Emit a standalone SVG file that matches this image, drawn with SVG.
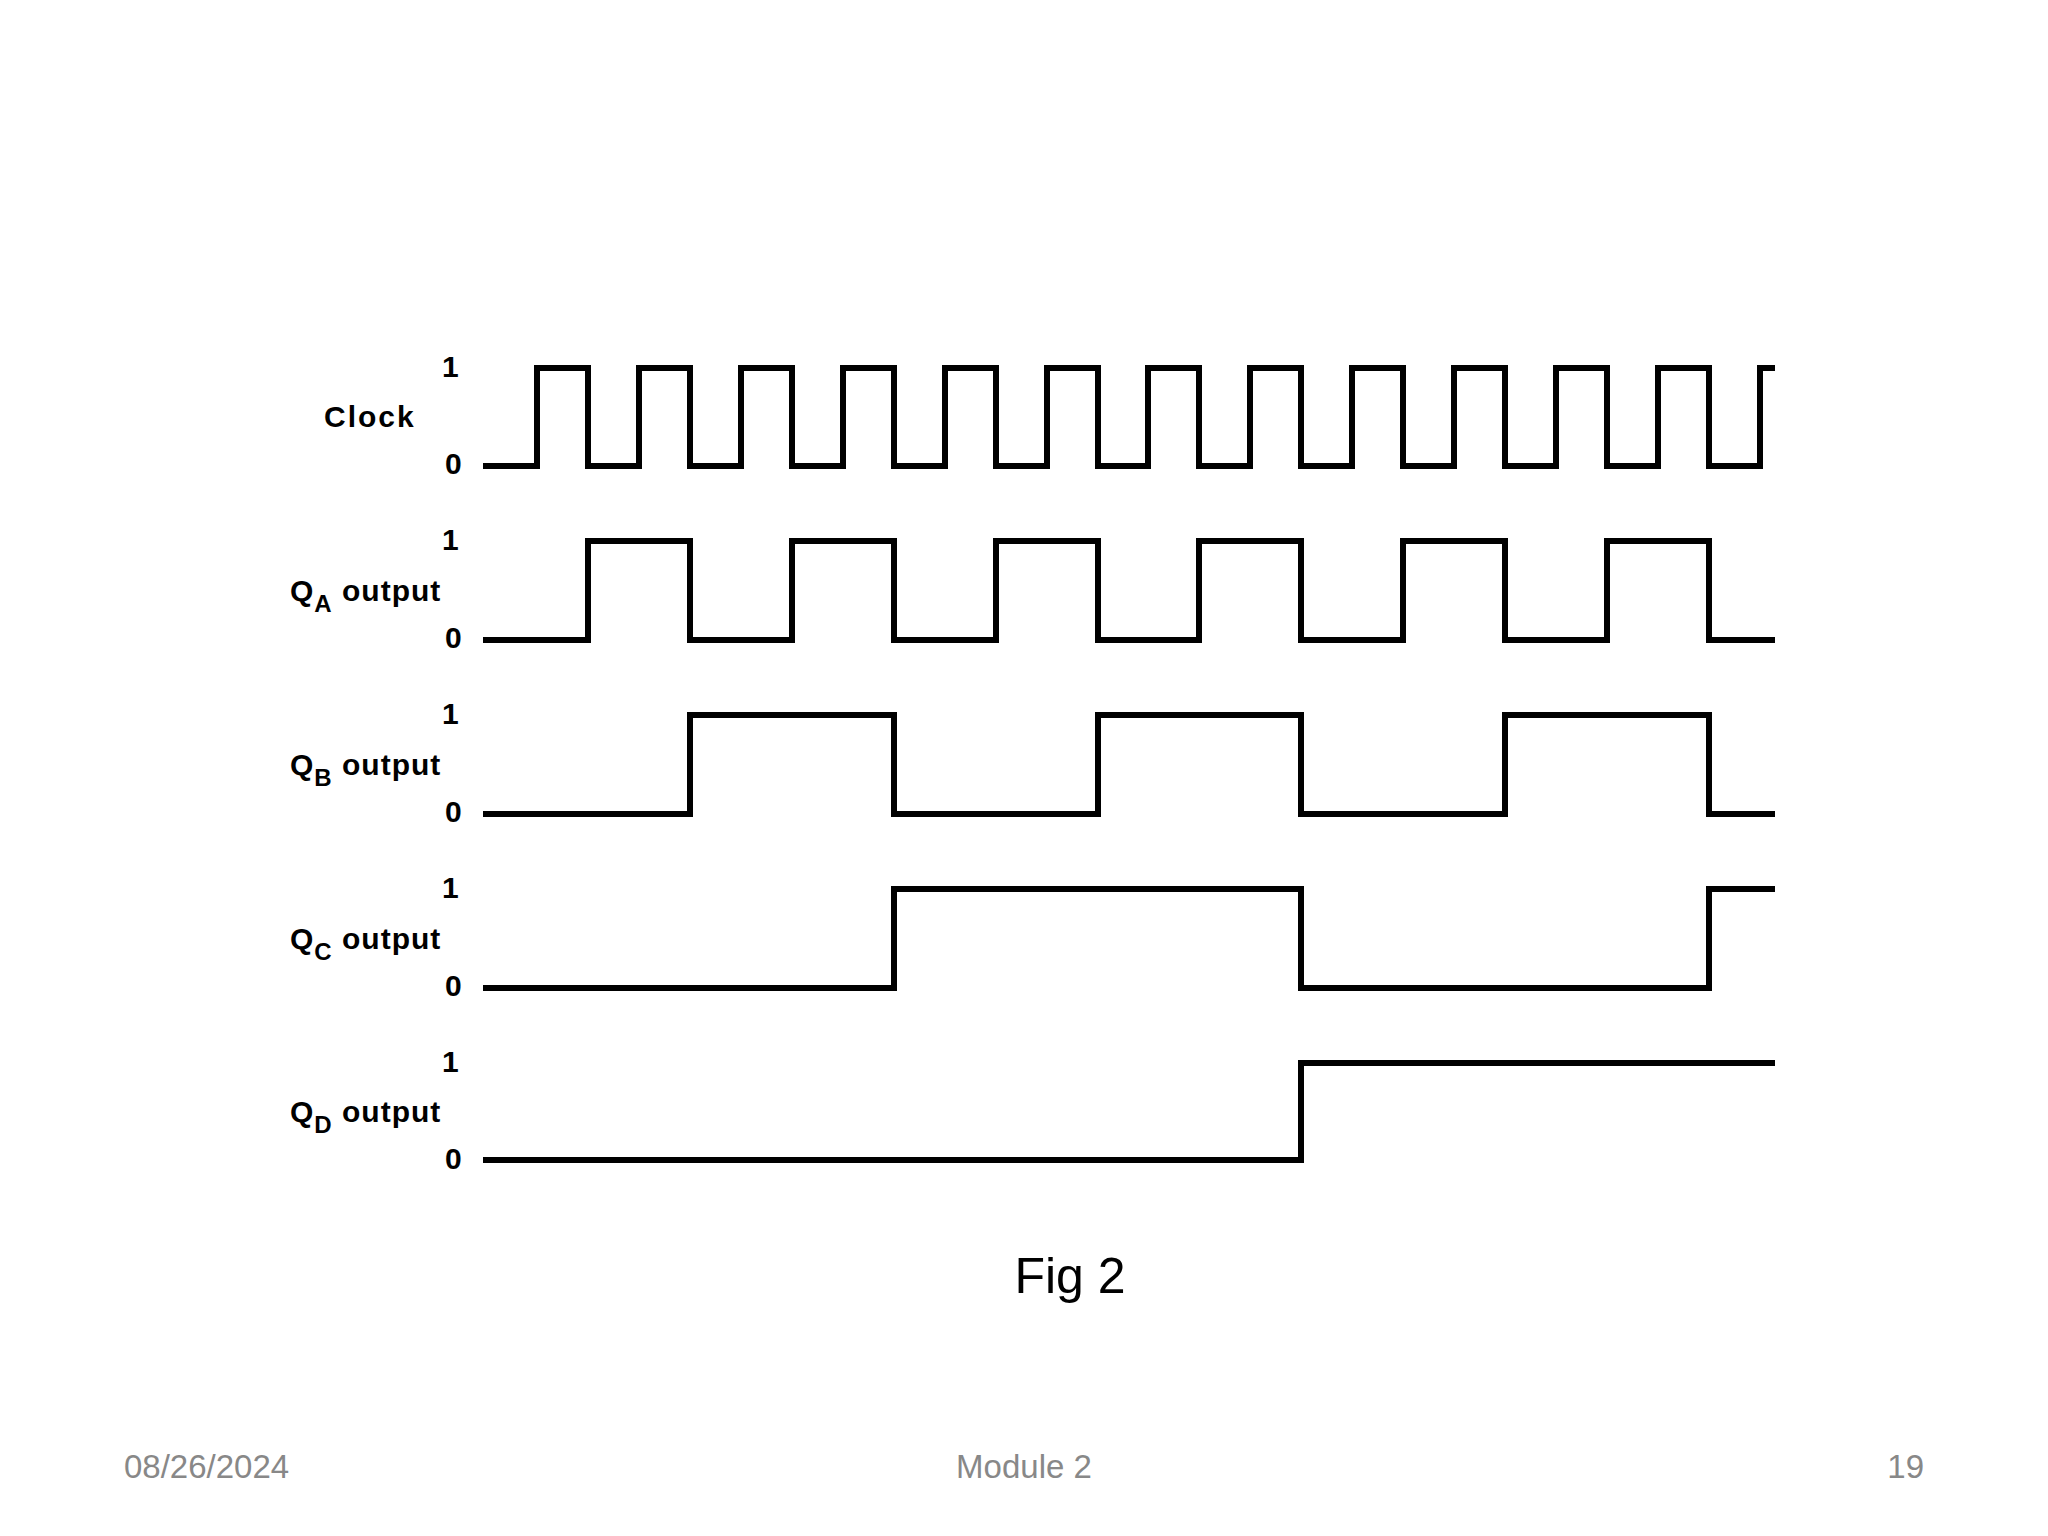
<svg xmlns="http://www.w3.org/2000/svg" width="2048" height="1536" viewBox="0 0 2048 1536">
<style>
.w{fill:none;stroke:#000;stroke-width:6;stroke-linejoin:miter;stroke-linecap:butt}
.l{font-family:"Liberation Sans",Arial,sans-serif;font-weight:bold;font-size:30px;fill:#000;letter-spacing:1px}
.s{font-size:24px}
.f{font-family:"Liberation Sans",Arial,sans-serif;font-size:33px;fill:#888}
</style>
<rect width="2048" height="1536" fill="#fff"/>
<g id="waves">
<path id="clock" class="w" d="M483 466H537V368H588V466H639V368H690V466H741V368H792V466H843V368H894V466H945V368H996V466H1047V368H1098V466H1148V368H1199V466H1250V368H1301V466H1352V368H1403V466H1454V368H1505V466H1556V368H1607V466H1658V368H1709V466H1760V368H1775"/>
<path id="qa" class="w" d="M483 640H588V541H690V640H792V541H894V640H996V541H1098V640H1199V541H1301V640H1403V541H1505V640H1607V541H1709V640H1775"/>
<path id="qb" class="w" d="M483 814H690V715H894V814H1098V715H1301V814H1505V715H1709V814H1775"/>
<path id="qc" class="w" d="M483 988H894V889H1301V988H1709V889H1775"/>
<path id="qd" class="w" d="M483 1160H1301V1063H1775"/>
</g>
<g id="labels" class="l">
<text x="324" y="427" letter-spacing="2">Clock</text>
<text x="442" y="377">1</text><text x="445" y="474">0</text>
<text x="442" y="550">1</text><text x="445" y="648">0</text>
<text x="442" y="724">1</text><text x="445" y="822">0</text>
<text x="442" y="898">1</text><text x="445" y="996">0</text>
<text x="442" y="1072">1</text><text x="445" y="1169">0</text>
<text x="290" y="601">Q<tspan class="s" dy="11">A</tspan><tspan dy="-11"> output</tspan></text>
<text x="290" y="775">Q<tspan class="s" dy="11">B</tspan><tspan dy="-11"> output</tspan></text>
<text x="290" y="949">Q<tspan class="s" dy="11">C</tspan><tspan dy="-11"> output</tspan></text>
<text x="290" y="1122">Q<tspan class="s" dy="11">D</tspan><tspan dy="-11"> output</tspan></text>
</g>
<text x="1070" y="1293" text-anchor="middle" font-family="Liberation Sans,Arial,sans-serif" font-size="50">Fig 2</text>
<text class="f" x="124" y="1478">08/26/2024</text>
<text class="f" x="1024" y="1478" text-anchor="middle">Module 2</text>
<text class="f" x="1924" y="1478" text-anchor="end">19</text>
</svg>
